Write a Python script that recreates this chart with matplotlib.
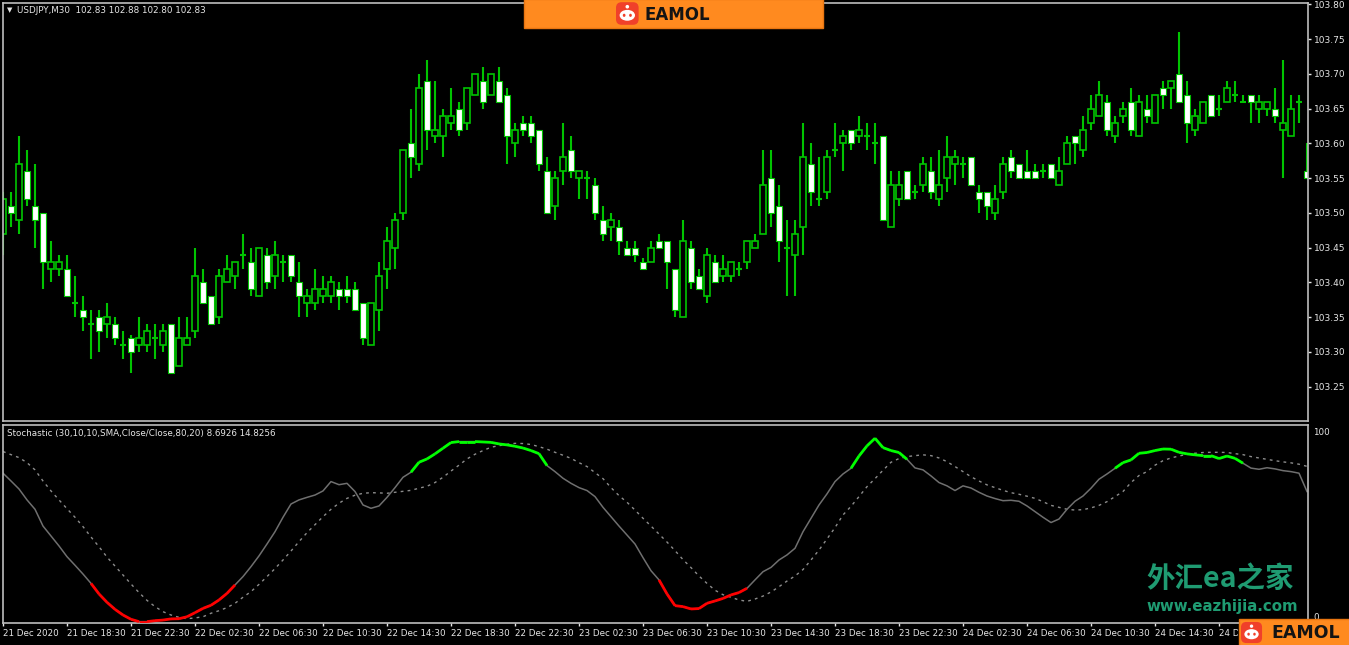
#!/usr/bin/env python3
"""
USDJPY M30 candles with a coloured Stochastic sub-window (MT4 style)
"""

import numpy as np
import matplotlib.pyplot as plt
from matplotlib.patches import Rectangle, FancyBboxPatch, Ellipse
from matplotlib.collections import LineCollection
from matplotlib.transforms import Bbox

# ---- price data (one entry per M30 bar) ----
opens = [103.47, 103.51, 103.49, 103.56, 103.51, 103.50, 103.42, 103.42, 103.42, 103.37,
         103.36, 103.34, 103.35, 103.34, 103.34, 103.31, 103.32, 103.31, 103.31, 103.32,
         103.31, 103.34, 103.28, 103.31, 103.33, 103.40, 103.38, 103.35, 103.40, 103.41,
         103.44, 103.43, 103.38, 103.44, 103.41, 103.43, 103.44, 103.40, 103.37, 103.37,
         103.38, 103.38, 103.39, 103.39, 103.39, 103.37, 103.31, 103.36, 103.42, 103.45,
         103.50, 103.60, 103.57, 103.69, 103.61, 103.61, 103.63, 103.65, 103.63, 103.67,
         103.69, 103.67, 103.69, 103.67, 103.60, 103.63, 103.63, 103.62, 103.56, 103.51,
         103.56, 103.59, 103.55, 103.55, 103.54, 103.49, 103.48, 103.48, 103.45, 103.45,
         103.43, 103.43, 103.46, 103.46, 103.42, 103.35, 103.45, 103.41, 103.38, 103.43,
         103.41, 103.41, 103.42, 103.43, 103.45, 103.47, 103.55, 103.51, 103.45, 103.44,
         103.48, 103.57, 103.52, 103.53, 103.59, 103.60, 103.62, 103.61, 103.61, 103.60,
         103.61, 103.48, 103.52, 103.56, 103.53, 103.54, 103.56, 103.52, 103.55, 103.57,
         103.57, 103.58, 103.53, 103.53, 103.50, 103.53, 103.58, 103.57, 103.56, 103.56,
         103.56, 103.57, 103.54, 103.57, 103.61, 103.59, 103.63, 103.64, 103.66, 103.61,
         103.64, 103.66, 103.61, 103.65, 103.63, 103.68, 103.68, 103.70, 103.67, 103.62,
         103.63, 103.67, 103.65, 103.66, 103.67, 103.66, 103.67, 103.65, 103.65, 103.65,
         103.62, 103.61, 103.66, 103.56]
highs = [103.53, 103.53, 103.61, 103.59, 103.57, 103.50, 103.46, 103.44, 103.44, 103.41,
         103.38, 103.36, 103.36, 103.37, 103.35, 103.33, 103.325, 103.35, 103.34, 103.34,
         103.34, 103.34, 103.35, 103.35, 103.45, 103.42, 103.38, 103.42, 103.44, 103.43,
         103.47, 103.45, 103.45, 103.45, 103.46, 103.44, 103.44, 103.43, 103.39, 103.42,
         103.41, 103.41, 103.40, 103.41, 103.40, 103.37, 103.37, 103.43, 103.48, 103.50,
         103.59, 103.65, 103.70, 103.72, 103.69, 103.65, 103.68, 103.66, 103.68, 103.70,
         103.71, 103.70, 103.71, 103.68, 103.63, 103.64, 103.64, 103.62, 103.58, 103.56,
         103.63, 103.61, 103.56, 103.56, 103.55, 103.51, 103.50, 103.49, 103.46, 103.46,
         103.435, 103.46, 103.47, 103.46, 103.42, 103.49, 103.46, 103.42, 103.45, 103.44,
         103.44, 103.43, 103.43, 103.46, 103.47, 103.59, 103.59, 103.54, 103.49, 103.49,
         103.63, 103.60, 103.58, 103.59, 103.63, 103.62, 103.62, 103.64, 103.63, 103.63,
         103.61, 103.56, 103.56, 103.56, 103.54, 103.58, 103.58, 103.59, 103.61, 103.59,
         103.58, 103.58, 103.54, 103.53, 103.54, 103.58, 103.59, 103.57, 103.59, 103.57,
         103.57, 103.57, 103.58, 103.61, 103.61, 103.64, 103.67, 103.69, 103.67, 103.64,
         103.66, 103.68, 103.67, 103.67, 103.67, 103.69, 103.69, 103.76, 103.69, 103.65,
         103.66, 103.67, 103.67, 103.69, 103.69, 103.67, 103.67, 103.67, 103.66, 103.68,
         103.72, 103.67, 103.67, 103.60]
lows = [103.44, 103.48, 103.47, 103.51, 103.45, 103.39, 103.40, 103.41, 103.38, 103.35,
        103.33, 103.29, 103.30, 103.32, 103.31, 103.29, 103.27, 103.30, 103.30, 103.29,
        103.30, 103.27, 103.28, 103.31, 103.32, 103.37, 103.34, 103.34, 103.40, 103.39,
        103.42, 103.38, 103.38, 103.39, 103.39, 103.40, 103.40, 103.35, 103.35, 103.36,
        103.37, 103.37, 103.36, 103.37, 103.36, 103.31, 103.31, 103.33, 103.39, 103.42,
        103.49, 103.55, 103.56, 103.59, 103.60, 103.58, 103.62, 103.61, 103.62, 103.67,
        103.65, 103.67, 103.66, 103.57, 103.58, 103.61, 103.60, 103.56, 103.50, 103.49,
        103.54, 103.55, 103.52, 103.52, 103.49, 103.46, 103.46, 103.44, 103.44, 103.43,
        103.42, 103.43, 103.45, 103.39, 103.35, 103.35, 103.39, 103.39, 103.37, 103.40,
        103.40, 103.40, 103.41, 103.42, 103.45, 103.47, 103.48, 103.43, 103.38, 103.38,
        103.44, 103.51, 103.51, 103.52, 103.58, 103.56, 103.59, 103.60, 103.59, 103.57,
        103.49, 103.48, 103.51, 103.52, 103.52, 103.53, 103.52, 103.51, 103.53, 103.54,
        103.55, 103.54, 103.50, 103.49, 103.49, 103.52, 103.55, 103.55, 103.55, 103.55,
        103.55, 103.55, 103.54, 103.57, 103.57, 103.58, 103.62, 103.64, 103.61, 103.60,
        103.63, 103.61, 103.61, 103.63, 103.63, 103.65, 103.65, 103.66, 103.60, 103.61,
        103.63, 103.64, 103.64, 103.66, 103.66, 103.66, 103.63, 103.63, 103.64, 103.63,
        103.55, 103.61, 103.63, 103.55]
closes = [103.52, 103.50, 103.57, 103.52, 103.49, 103.43, 103.43, 103.43, 103.38, 103.37,
          103.35, 103.34, 103.33, 103.35, 103.32, 103.31, 103.30, 103.32, 103.33, 103.32,
          103.33, 103.27, 103.32, 103.32, 103.41, 103.37, 103.34, 103.41, 103.42, 103.43,
          103.44, 103.39, 103.45, 103.40, 103.44, 103.43, 103.41, 103.38, 103.38, 103.39,
          103.39, 103.40, 103.38, 103.38, 103.36, 103.32, 103.37, 103.41, 103.46, 103.49,
          103.59, 103.58, 103.68, 103.62, 103.62, 103.64, 103.64, 103.62, 103.68, 103.70,
          103.66, 103.70, 103.66, 103.61, 103.62, 103.62, 103.61, 103.57, 103.50, 103.55,
          103.58, 103.56, 103.56, 103.55, 103.50, 103.47, 103.49, 103.46, 103.44, 103.44,
          103.42, 103.45, 103.45, 103.43, 103.36, 103.46, 103.40, 103.39, 103.44, 103.40,
          103.42, 103.43, 103.42, 103.46, 103.46, 103.54, 103.50, 103.46, 103.45, 103.47,
          103.58, 103.53, 103.52, 103.58, 103.59, 103.61, 103.60, 103.62, 103.61, 103.60,
          103.49, 103.54, 103.54, 103.52, 103.53, 103.57, 103.53, 103.54, 103.58, 103.58,
          103.57, 103.54, 103.52, 103.51, 103.52, 103.57, 103.56, 103.55, 103.55, 103.55,
          103.56, 103.55, 103.56, 103.60, 103.60, 103.62, 103.65, 103.67, 103.62, 103.63,
          103.65, 103.62, 103.66, 103.64, 103.67, 103.67, 103.69, 103.66, 103.63, 103.64,
          103.66, 103.64, 103.65, 103.68, 103.67, 103.66, 103.66, 103.66, 103.66, 103.64,
          103.63, 103.65, 103.66, 103.55]

# ---- stochastic (30,10,10) main and signal lines ----
stoch_main = [76.8, 72.8, 68.7, 63.1, 58.3, 49.7, 44.6, 39.5, 34.0, 29.6,
              25.1, 20.3, 14.9, 10.6, 7.0, 4.1, 1.9, 0.7, 0.7, 1.2,
              1.5, 2.1, 2.2, 3.2, 5.3, 7.5, 9.1, 11.8, 15.2, 19.5,
              23.8, 28.9, 34.4, 40.5, 46.8, 54.2, 61.0, 63.1, 64.4, 65.6,
              67.7, 72.5, 70.9, 71.6, 67.4, 60.5, 58.8, 60.0, 64.4, 69.4,
              74.7, 77.3, 82.4, 84.1, 86.7, 89.6, 92.5, 93.0, 93.0, 93.0,
              92.8, 92.6, 91.8, 91.3, 90.6, 89.7, 88.4, 86.8, 80.7, 77.6,
              74.2, 71.6, 69.4, 67.9, 64.8, 59.3, 54.5, 49.7, 45.1, 40.5,
              33.5, 26.8, 22.1, 14.9, 8.9, 8.4, 7.2, 7.4, 10.1, 11.3,
              12.6, 14.4, 15.6, 17.8, 22.1, 26.3, 28.5, 32.3, 34.9, 38.3,
              46.8, 53.7, 60.5, 66.2, 72.5, 76.4, 79.3, 85.6, 90.8, 94.7,
              89.9, 88.4, 87.4, 83.9, 79.5, 78.5, 75.4, 72.0, 70.3, 67.9,
              70.3, 69.2, 67.0, 65.1, 63.8, 62.7, 62.9, 62.4, 60.0, 57.1,
              54.2, 51.5, 53.3, 58.3, 62.4, 65.1, 69.1, 73.7, 76.4, 79.3,
              82.2, 83.6, 87.0, 87.4, 88.4, 89.2, 89.1, 87.5, 86.7, 86.2,
              85.8, 85.8, 84.3, 85.6, 84.4, 81.9, 79.4, 78.8, 79.6, 79.0,
              78.1, 77.6, 76.8, 67.4]
stoch_signal = [87.9, 86.3, 84.8, 82.2, 78.5, 72.8, 67.7, 63.1, 58.6, 54.2,
                49.4, 44.1, 39.1, 33.8, 29.2, 24.6, 20.0, 15.6, 11.6, 8.4,
                5.8, 4.1, 2.9, 2.2, 2.6, 3.2, 5.0, 6.3, 7.9, 10.1,
                13.2, 16.1, 19.8, 23.8, 27.9, 32.3, 36.9, 41.7, 46.3, 50.4,
                54.5, 58.3, 61.4, 63.9, 65.5, 66.5, 66.8, 66.7, 66.5, 67.0,
                67.5, 68.0, 69.1, 70.1, 72.0, 74.7, 77.9, 80.9, 84.1, 86.5,
                88.4, 90.1, 90.9, 91.6, 92.1, 92.0, 91.5, 90.4, 89.1, 87.5,
                86.0, 84.4, 82.2, 80.2, 77.1, 74.0, 69.4, 65.3, 61.9, 57.9,
                53.7, 49.7, 45.6, 41.5, 37.1, 32.5, 28.4, 24.1, 20.3, 16.8,
                14.5, 13.2, 11.8, 11.1, 12.3, 13.8, 15.9, 18.6, 21.5, 24.1,
                27.4, 32.3, 37.4, 43.1, 48.9, 55.4, 59.8, 64.8, 69.9, 74.0,
                78.3, 82.4, 84.3, 85.3, 85.8, 86.2, 85.8, 84.6, 82.7, 80.2,
                77.6, 75.0, 72.8, 70.8, 69.4, 68.0, 66.8, 66.0, 65.0, 63.9,
                62.2, 60.3, 59.3, 58.3, 57.9, 58.1, 59.0, 60.3, 62.2, 64.8,
                67.4, 72.0, 75.6, 77.6, 80.9, 83.2, 84.6, 85.6, 86.5, 87.0,
                87.4, 87.5, 87.5, 87.4, 86.8, 86.3, 85.3, 84.6, 83.9, 83.2,
                82.6, 82.1, 81.4, 80.3]

time_labels = ['21 Dec 2020', '21 Dec 18:30', '21 Dec 22:30', '22 Dec 02:30', '22 Dec 06:30',
               '22 Dec 10:30', '22 Dec 14:30', '22 Dec 18:30', '22 Dec 22:30', '23 Dec 02:30',
               '23 Dec 06:30', '23 Dec 10:30', '23 Dec 14:30', '23 Dec 18:30', '23 Dec 22:30',
               '24 Dec 02:30', '24 Dec 06:30', '24 Dec 10:30', '24 Dec 14:30', '24 Dec 18:30']
price_ticks = [103.25, 103.30, 103.35, 103.40, 103.45, 103.50, 103.55, 103.60, 103.65, 103.70,
               103.75, 103.80]

overbought = 80
oversold = 20

W, H = 1349, 645
GREEN = '#00c400'
FRAME = '#bdbdbd'
TXT = '#e6e6e6'


def px_axes(fig, x0, y0, x1, y1):
    """Add axes using pixel box (top-left origin)"""
    return fig.add_axes([x0 / W, 1 - y1 / H, (x1 - x0) / W, (y1 - y0) / H])


def style_frame(ax):
    ax.set_facecolor('black')
    for s in ax.spines.values():
        s.set_color(FRAME)
        s.set_linewidth(1.2)


def draw_candles(ax, o, h, l, c):
    o, h, l, c = map(np.asarray, (o, h, l, c))
    x = np.arange(len(o))
    ax.vlines(x, l, h, color=GREEN, lw=1.5, zorder=1)
    bw = 0.64
    up = c > o
    dn = c < o
    flat = c == o
    ax.bar(x[up], c[up] - o[up], bottom=o[up], width=bw, facecolor='black',
           edgecolor=GREEN, linewidth=1.2, zorder=2)
    ax.bar(x[dn], o[dn] - c[dn], bottom=c[dn], width=bw, facecolor='white',
           edgecolor=GREEN, linewidth=0.8, zorder=2)
    ax.hlines(o[flat], x[flat] - bw / 2, x[flat] + bw / 2, color=GREEN, lw=1.5, zorder=2)


def draw_stochastic(ax, k, d):
    k = np.asarray(k)
    x = np.arange(len(k))
    ax.plot(x, d, color='#8c8c8c', lw=1.0, linestyle=(0, (2, 3)), zorder=1)
    ax.plot(x, k, color='#6f6f6f', lw=1.1, zorder=2)
    green, red = [], []
    for i in range(len(k) - 1):
        seg = [(x[i], k[i]), (x[i + 1], k[i + 1])]
        if k[i + 1] > overbought:
            green.append(seg)
        elif k[i + 1] < oversold:
            red.append(seg)
    ax.add_collection(LineCollection(green, colors='#00ff00', linewidths=2.0, zorder=3))
    ax.add_collection(LineCollection(red, colors='#ff0000', linewidths=2.0, zorder=3))


def draw_logo(ov, x0, y0, x1, y1, icon_x, text_x, fs):
    """Orange EAMOL badge"""
    ov.add_patch(Rectangle((x0, y0), x1 - x0, y1 - y0, facecolor='#ff8a1f',
                           edgecolor='#e87510', lw=1, zorder=5))
    hgt = (y1 - y0) * 0.78
    yc = (y0 + y1) / 2
    ov.add_patch(FancyBboxPatch((icon_x, yc - hgt / 2), hgt, hgt,
                                boxstyle='round,pad=0,rounding_size=%f' % (hgt * 0.25),
                                facecolor='#f0402a', edgecolor='none', zorder=6))
    cx = icon_x + hgt / 2
    ov.add_patch(Ellipse((cx, yc + hgt * 0.08), hgt * 0.68, hgt * 0.48,
                         facecolor='white', edgecolor='none', zorder=7))
    ov.add_patch(Ellipse((cx, yc - hgt * 0.3), hgt * 0.16, hgt * 0.16,
                         facecolor='white', edgecolor='none', zorder=7))
    for dx in (-0.14, 0.14):
        ov.add_patch(Ellipse((cx + dx * hgt, yc + hgt * 0.08), hgt * 0.12, hgt * 0.14,
                             facecolor='#f0402a', edgecolor='none', zorder=8))
    ov.text(text_x, yc + 1, 'EAMOL', color='#141414', fontsize=fs, ha='left', va='center',
            family='DejaVu Sans', fontweight='bold', zorder=8)


def main():
    fig = plt.figure(figsize=(W / 100, H / 100), dpi=100, facecolor='black')

    # ---- price window ----
    ax = px_axes(fig, 3, 3, 1308, 421)
    style_frame(ax)
    draw_candles(ax, opens, highs, lows, closes)
    n = len(opens)
    ax.set_xlim(0, n - 0.875)
    ax.set_ylim(103.2007, 103.802)
    ax.yaxis.tick_right()
    ax.set_yticks(price_ticks)
    ax.set_yticklabels(['%.2f' % p for p in price_ticks])
    ax.tick_params(axis='y', colors=TXT, labelsize=6.5, length=2, width=1, pad=2)
    ax.set_xticks([])
    ax.text(0.003, 0.983, '\u25bc', transform=ax.transAxes, color=TXT, fontsize=5,
            ha='left', va='center')
    ax.text(0.011, 0.983, 'USDJPY,M30  102.83 102.88 102.80 102.83', transform=ax.transAxes,
            color=TXT, fontsize=6.3, ha='left', va='center')

    # ---- stochastic window ----
    ax2 = px_axes(fig, 3, 425, 1308, 623)
    style_frame(ax2)
    draw_stochastic(ax2, stoch_main, stoch_signal)
    ax2.set_xlim(0, n - 0.875)
    ax2.set_ylim(0, 101.5)
    ax2.set_yticks([])
    ticks = np.arange(len(time_labels)) * 8
    ax2.set_xticks(ticks)
    ax2.set_xticklabels(time_labels, ha='left')
    ax2.tick_params(axis='x', colors=TXT, labelsize=6.3, length=2.5, width=1, pad=2)
    # the last label sits partly under the corner badge, as in the screenshot
    last = ax2.get_xticklabels()[-1]
    last.set_clip_box(Bbox.from_extents(0, 0, 1238, H))
    last.set_clip_on(True)
    ax2.text(1.004, 100, '100', transform=ax2.get_yaxis_transform(), color=TXT,
             fontsize=6.3, ha='left', va='top')
    ax2.text(1.004, 0.5, '0', transform=ax2.get_yaxis_transform(), color=TXT,
             fontsize=6.3, ha='left', va='bottom')
    ax2.text(0.003, 0.955, 'Stochastic (30,10,10,SMA,Close/Close,80,20) 8.6926 14.8256',
             transform=ax2.transAxes, color=TXT, fontsize=6.3, ha='left', va='center')

    # ---- overlay: badges and watermark ----
    ov = fig.add_axes([0, 0, 1, 1], facecolor='none')
    ov.set_xlim(0, W)
    ov.set_ylim(H, 0)
    ov.axis('off')
    draw_logo(ov, 524, -1, 823, 28, 616, 644, 12)
    draw_logo(ov, 1239, 619, 1350, 646, 1241, 1271, 12.5)
    ov.text(1146, 579, '外汇ea之家', color='#1f9b72', fontsize=20.5, fontweight='bold',
            family=['Noto Sans CJK SC', 'DejaVu Sans'], ha='left', va='center', zorder=4)
    ov.text(1146, 606, 'www.eazhijia.com', color='#1f9b72', fontsize=10.8, fontweight='bold',
            family='DejaVu Sans', ha='left', va='center', zorder=4)

    fig.savefig('out.png', dpi=100, facecolor='black')
    plt.close(fig)


if __name__ == "__main__":
    main()
